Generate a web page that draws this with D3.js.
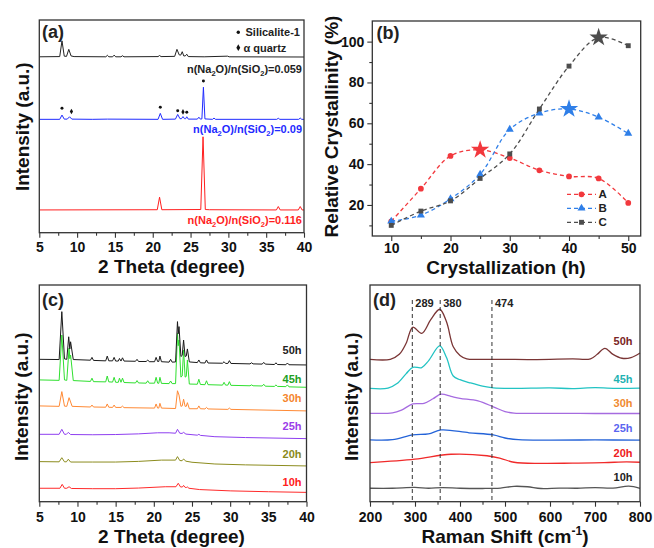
<!DOCTYPE html>
<html><head><meta charset="utf-8">
<script src="https://cdn.jsdelivr.net/npm/d3@7"></script>
<style>body{margin:0;background:#fff}svg{display:block}</style>
</head><body>
<svg id="c" width="654" height="548"></svg>
<script>
// ---------------- DATA ----------------
// (a) XRD, x = 2 theta, y = stacked intensity (a.u.)
const xrdA_0059 = [[5,82.7],[7.7,82.8],[8.0,90.2],[8.3,83.0],[8.6,82.9],[8.9,86.2],[9.2,83.1],[9.6,82.8],[13.8,82.7],[14.0,83.4],[14.2,82.7],[14.7,82.7],[14.9,83.5],[15.1,82.7],[15.8,82.7],[16.0,83.2],[16.2,82.7],[20.7,82.8],[20.9,83.3],[21.1,82.8],[22.9,82.9],[23.2,86.2],[23.5,83.6],[23.7,83.5],[23.9,85.1],[24.1,83.1],[24.3,83.1],[24.5,83.9],[24.7,82.8],[26.8,82.7],[29.9,83.0],[30.1,82.7],[40,82.6]];
const xrdA_009 = [[5,53.3],[7.7,53.3],[8.0,55.3],[8.3,53.4],[8.7,53.4],[9.0,54.5],[9.3,53.4],[12,53.3],[14,53.4],[20.7,53.3],[21.0,56.1],[21.3,53.3],[23.0,53.4],[23.3,55.6],[23.6,53.6],[23.8,53.6],[24.0,54.6],[24.2,53.6],[24.35,53.6],[24.5,54.5],[24.7,53.4],[25.9,53.4],[26.1,54.3],[26.3,53.4],[26.5,53.5],[26.7,68.4],[26.9,53.5],[27.9,53.3],[28.1,53.9],[28.3,53.3],[36.4,53.3],[36.6,53.8],[36.8,53.3],[39.3,53.3],[39.5,53.9],[39.7,53.3],[40,53.3]];
const xrdA_0116 = [[5,10.7],[20.6,10.8],[20.9,16.7],[21.2,10.8],[26.35,10.9],[26.65,45.1],[26.95,10.9],[27.5,10.8],[36.35,10.7],[36.6,12.3],[36.85,10.7],[39.25,10.7],[39.5,12.3],[39.75,10.7],[40,10.7]];
const silicaliteMarks = [[8.0,58.5],[21.0,59.0],[23.3,57.3],[24.5,56.6],[26.7,71.3]];
const quartzMarks = [[9.25,57.0],[24.0,56.8]];
const labelsA = ["0.059","0.09","0.116"];

// (b) relative crystallinity
const hoursB = [10,15,20,25,30,35,40,45,50];
const crystA = [12,28,44,47,43,37,34,33,21];
const crystB = [12,15,23,35,57,65,67,63,55];
const crystC = [10,17,22,33,45,67,88,102,98];
const seriesNamesB = ["A","B","C"];

// (c) XRD vs crystallization time
const xrdC_50 = [[5,65.7],[7.6,65.6],[7.95,87.7],[8.3,65.9],[8.6,65.7],[8.85,76.1],[9.0,70.5],[9.1,73.8],[9.45,65.6],[11.7,65.3],[11.9,66.6],[12.1,65.2],[13.7,65.0],[13.9,67.2],[14.1,65.0],[14.6,65.0],[14.8,66.6],[15.0,64.9],[15.35,64.9],[15.5,66.1],[15.7,64.9],[15.9,66.4],[16.1,64.9],[17.6,64.8],[17.8,65.7],[18.0,64.7],[19.0,64.7],[19.2,65.4],[19.4,64.6],[20.1,64.6],[20.3,66.6],[20.5,64.7],[20.65,64.7],[20.8,67.2],[21.0,64.6],[22.0,64.4],[22.2,65.7],[22.4,64.4],[22.85,64.5],[23.1,83.1],[23.2,77.5],[23.3,80.8],[23.55,67.0],[23.72,67.5],[23.9,74.6],[24.1,67.0],[24.25,67.2],[24.4,70.5],[24.65,64.5],[25.7,64.2],[25.9,65.4],[26.1,64.1],[26.7,64.0],[26.9,65.4],[27.1,64.0],[29.0,63.9],[29.2,64.6],[29.4,63.8],[29.7,63.8],[29.9,65.1],[30.1,63.8],[32.6,63.6],[32.8,64.1],[33.0,63.6],[34.2,63.5],[34.4,64.3],[34.6,63.5],[35.8,63.3],[36.0,64.1],[36.2,63.3],[37.3,63.2],[37.5,64.0],[37.7,63.2],[40,63.1]];
const xrdC_45 = [[5,56.2],[7.6,56.0],[7.95,76.9],[8.3,56.2],[8.6,56.0],[8.9,70.9],[9.0,66],[9.1,67.7],[9.45,55.9],[11.7,55.5],[11.9,57.0],[12.1,55.4],[13.7,55.3],[13.9,58.0],[14.1,55.3],[14.6,55.2],[14.8,57.4],[15.0,55.1],[15.35,55.1],[15.5,57.0],[15.7,55.1],[15.9,57.0],[16.1,55.0],[17.6,54.8],[17.8,55.9],[18.0,54.8],[19.0,54.7],[19.2,55.8],[19.4,54.7],[20.1,54.7],[20.3,57.4],[20.5,54.7],[20.65,54.6],[20.8,57.4],[21.0,54.6],[22.0,54.5],[22.2,55.7],[22.4,54.5],[22.85,54.5],[23.1,77.8],[23.2,72],[23.3,74.6],[23.55,57.5],[23.72,58],[23.9,70.0],[24.1,57.5],[24.25,57.8],[24.4,65.4],[24.65,54.3],[25.7,54.2],[25.9,56.5],[26.1,54.1],[26.7,54.0],[26.9,55.8],[27.1,54.0],[29.0,53.8],[29.2,55.1],[29.4,53.8],[29.7,53.8],[29.9,55.4],[30.1,53.7],[32.6,53.5],[32.8,53.9],[33.0,53.5],[34.2,53.4],[34.4,54.2],[34.6,53.3],[35.8,53.2],[36.0,53.9],[36.2,53.2],[37.3,53.1],[37.5,53.9],[37.7,53.0],[40,52.8]];
const xrdC_30 = [[5,44.2],[7.6,44.0],[7.95,50.8],[8.3,44.1],[8.6,44.0],[8.9,48.0],[9.3,44.0],[11.7,43.7],[11.9,44.6],[12.1,43.7],[13.7,43.6],[13.9,45.1],[14.1,43.6],[14.6,43.5],[14.8,44.6],[15.0,43.5],[15.7,43.5],[15.9,44.1],[16.1,43.4],[20.1,43.2],[20.3,45.1],[20.5,43.2],[20.65,43.2],[20.8,45.4],[21.0,43.2],[22.85,43.0],[23.1,51.2],[23.3,49.2],[23.55,44.0],[23.72,44.2],[23.9,47.3],[24.1,44.0],[24.25,44.0],[24.4,45.7],[24.65,42.9],[25.7,42.9],[25.9,44.2],[26.1,42.9],[26.7,42.8],[26.9,43.5],[27.1,42.8],[29.7,42.6],[29.9,43.2],[30.1,42.6],[40,41.9]];
const xrdC_25 = [[5,31.1],[7.6,31.1],[7.95,33.4],[8.3,31.1],[8.55,31.1],[8.8,32.0],[9.1,31.0],[12,30.9],[15,31.0],[18,31.3],[20.5,31.8],[22,31.8],[22.85,31.6],[23.1,33.4],[23.4,31.6],[23.7,31.5],[23.9,32.0],[24.2,31.2],[25.7,30.7],[25.9,31.1],[26.1,30.6],[28,30.0],[32,29.6],[40,29.1]];
const xrdC_20 = [[5,18.5],[7.6,18.4],[7.95,20.3],[8.3,18.4],[8.55,18.4],[8.8,19.6],[9.1,18.3],[12,18.3],[15,18.3],[18,18.6],[21,19.2],[22.85,19.2],[23.1,20.8],[23.4,19.0],[23.7,18.9],[23.9,19.7],[24.2,18.7],[25,18.2],[28,17.4],[32,17.0],[40,16.5]];
const xrdC_10 = [[5,6.2],[7.7,6.2],[8.0,8.0],[8.3,6.2],[8.6,6.2],[8.9,6.9],[9.2,6.1],[12,6.0],[15,6.0],[18,6.3],[21.5,6.9],[22.9,6.9],[23.2,8.5],[23.5,6.8],[23.75,6.8],[23.9,7.5],[24.1,6.6],[24.3,6.6],[24.4,6.8],[24.6,6.2],[26,5.6],[30,5.0],[35,4.6],[40,4.3]];
const timeLabels = ["50h","45h","30h","25h","20h","10h"];

// (d) Raman spectra
const raman_50 = [[200,65.7],[245,65.7],[265,68],[280,73],[295,80.5],[315,77.7],[335,84],[355,88.8],[370,83],[385,71.5],[400,67.5],[415,65.9],[450,65.7],[500,65.7],[550,65.6],[600,65.7],[650,65.9],[690,65.9],[705,68],[722,70.8],[740,68],[760,66.2],[780,66.5],[800,68.6]];
const raman_45 = [[200,52.3],[240,52.4],[260,54.5],[280,59],[295,62],[315,61.9],[330,65],[355,71.9],[370,66.5],[385,58],[400,56.3],[420,55],[450,53.3],[474,52.5],[520,52.3],[600,52.5],[650,52.2],[700,52.6],[750,52.3],[800,52.4]];
const raman_30 = [[200,40.8],[250,41],[270,42.3],[295,45.1],[320,45.4],[340,47.5],[358,49.6],[380,48.6],[400,47.7],[440,46.5],[474,43.8],[500,41.6],[520,40.9],[600,40.8],[700,40.7],[800,40.7]];
const raman_25 = [[200,28.5],[250,28.6],[295,30.8],[330,31.3],[358,33.1],[420,31.8],[474,30.8],[500,29.4],[530,28.6],[600,28.4],[700,28.5],[800,28.4]];
const raman_20 = [[200,18],[300,19.6],[380,21.9],[460,21.2],[490,20],[520,18.2],[580,17.7],[650,17.8],[720,18],[770,18.4],[800,18.2]];
const raman_10 = [[200,6.2],[250,6.2],[300,6.6],[330,6.2],[360,6.5],[400,6.2],[450,6.1],[490,6.3],[520,7.1],[550,6.9],[580,6.1],[620,6.3],[660,6.2],[700,6.5],[740,6.3],[775,7.2],[800,6.2]];
const ramanLinePos = [294,356,471];
const ramanLineLabels = ["289","380","474"];

// tick labels
const xTicksXRD = [5,10,15,20,25,30,35,40];
const xTicksB = [10,20,30,40,50];
const yTicksB = [20,40,60,80,100];
const xTicksD = [200,300,400,500,600,700,800];

// ---------------- DRAW ----------------
const FONT = "'Liberation Sans', Arial, Helvetica, sans-serif";
const svg = d3.select("#c");
const INK = "#222";

function midTicks(t){ const m=[]; for(let i=0;i<t.length-1;i++) m.push((t[i]+t[i+1])/2); return m; }

function frame(p){
  svg.append("rect").attr("x",p.x0).attr("y",p.y0).attr("width",p.x1-p.x0).attr("height",p.y1-p.y0)
    .attr("fill","none").attr("stroke","#333").attr("stroke-width",1.3);
}
function styleAxis(s){
  s.select(".domain").remove();
  s.selectAll("line").attr("stroke","#333").attr("stroke-width",1.1);
  s.selectAll("text").attr("font-family",FONT).attr("font-size",14).attr("font-weight","bold").attr("fill","#111");
}
function bottomAxis(p,x,major,minor,pad){
  svg.append("g").attr("transform",`translate(0,${p.y1})`)
    .call(d3.axisBottom(x).tickValues(major).tickSize(5).tickPadding(pad).tickFormat(d3.format("d"))).call(styleAxis);
  svg.append("g").attr("transform",`translate(0,${p.y1})`)
    .call(d3.axisBottom(x).tickValues(minor).tickSize(3).tickFormat("")).call(styleAxis);
}
function text(x,y,s,o={}){
  const t=svg.append("text").attr("x",x).attr("y",y).attr("font-family",FONT)
    .attr("font-size",o.size||11).attr("font-weight",o.weight||"bold").attr("fill",o.fill||INK)
    .attr("text-anchor",o.anchor||"start");
  if(o.rotate) t.attr("transform",`rotate(-90,${x},${y})`);
  t.text(s); return t;
}
function ratioLabel(x,y,val,color){
  const t=svg.append("text").attr("x",x).attr("y",y).attr("font-family",FONT).attr("font-size",11)
    .attr("font-weight","bold").attr("fill",color).attr("text-anchor","end");
  t.append("tspan").text("n(Na");
  t.append("tspan").attr("font-size",7.5).attr("dy",3).text("2");
  t.append("tspan").attr("dy",-3).text("O)/n(SiO");
  t.append("tspan").attr("font-size",7.5).attr("dy",3).text("2");
  t.append("tspan").attr("dy",-3).text(")="+val);
}
const TITLE=19;

// ===== Panel (a) =====
const pa={x0:39.3,x1:304,y0:20,y1:232.7};
const xa=d3.scaleLinear().domain([5,40]).range([pa.x0,pa.x1]);
const ya=d3.scaleLinear().domain([0,100]).range([pa.y1,pa.y0]);
const lineA=d3.line().x(d=>xa(d[0])).y(d=>ya(d[1]));
[[xrdA_0116,"#ff1f1f"],[xrdA_009,"#1f2bff"],[xrdA_0059,"#222"]].forEach(([d,c])=>{
  svg.append("path").attr("d",lineA(d)).attr("fill","none").attr("stroke",c).attr("stroke-width",1);
});
svg.selectAll(".sil").data(silicaliteMarks).enter().append("path")
  .attr("transform",d=>`translate(${xa(d[0])},${ya(d[1])})`).attr("d",d3.symbol(d3.symbolCircle,7)()).attr("fill","#111");
svg.selectAll(".qz").data(quartzMarks).enter().append("path")
  .attr("transform",d=>`translate(${xa(d[0])},${ya(d[1])})`).attr("d",d3.symbol(d3.symbolDiamond,9)()).attr("fill","#111");
// legend
svg.append("path").attr("transform","translate(238.3,32.3)").attr("d",d3.symbol(d3.symbolCircle,9)()).attr("fill","#111");
text(245.5,36.2,"Silicalite-1");
svg.append("path").attr("transform","translate(238.3,47.7)").attr("d",d3.symbol(d3.symbolDiamond,13)()).attr("fill","#111");
text(243.5,51.6,"α quartz");
ratioLabel(302,73.3,labelsA[0],"#222");
ratioLabel(302,133,labelsA[1],"#1f2bff");
ratioLabel(302,224,labelsA[2],"#ff1f1f");
frame(pa);
bottomAxis(pa,xa,xTicksXRD,midTicks(xTicksXRD),4);
text(42,38,"(a)",{size:18});
text(171.5,272.5,"2 Theta (degree)",{size:TITLE,anchor:"middle",fill:"#111"});
text(29.5,126.7,"Intensity (a.u.)",{size:TITLE,anchor:"middle",rotate:true,fill:"#111"});

// ===== Panel (b) =====
const pb={x0:372.3,x1:640.7,y0:21,y1:236};
const xb=d3.scaleLinear().domain([6.8,52.1]).range([pb.x0,pb.x1]);
const yb=d3.scaleLinear().domain([4.8,110.1]).range([pb.y1,pb.y0]);
const seriesB=[
  {v:crystA,c:"#f2383d",sym:d3.symbolCircle,size:26},
  {v:crystB,c:"#2f7fe8",sym:d3.symbolTriangle,size:28},
  {v:crystC,c:"#4d4d4d",sym:d3.symbolSquare,size:24}
];
const lineB=d3.line().x((d,i)=>xb(hoursB[i])).y(d=>yb(d)).curve(d3.curveCatmullRom.alpha(0.5));
seriesB.forEach(s=>{
  svg.append("path").attr("d",lineB(s.v)).attr("fill","none").attr("stroke",s.c).attr("stroke-width",1.3).attr("stroke-dasharray","4,3");
  const mi=d3.maxIndex(s.v);
  s.v.forEach((v,i)=>{
    const isMax=i===mi;
    svg.append("path").attr("transform",`translate(${xb(hoursB[i])},${yb(v)})`)
      .attr("d",d3.symbol(isMax?d3.symbolStar:s.sym,isMax?105:s.size)()).attr("fill",s.c);
  });
});
// legend
[194.3,208.3,222.3].forEach((ly,i)=>{
  const s=seriesB[i];
  svg.append("line").attr("x1",567).attr("x2",596).attr("y1",ly).attr("y2",ly).attr("stroke",s.c).attr("stroke-width",1.3).attr("stroke-dasharray","4,3");
  svg.append("path").attr("transform",`translate(581.5,${ly})`).attr("d",d3.symbol(s.sym,s.size)()).attr("fill",s.c);
  text(598.5,ly+4,seriesNamesB[i],{size:11.5});
});
frame(pb);
bottomAxis(pb,xb,xTicksB,midTicks(xTicksB),2);
svg.append("g").attr("transform",`translate(${pb.x0},0)`)
  .call(d3.axisLeft(yb).tickValues(yTicksB).tickSize(5).tickPadding(3).tickFormat(d3.format("d"))).call(styleAxis);
svg.append("g").attr("transform",`translate(${pb.x0},0)`)
  .call(d3.axisLeft(yb).tickValues([10,30,50,70,90]).tickSize(3).tickFormat("")).call(styleAxis);
text(376.5,39,"(b)",{size:18});
text(506,273.5,"Crystallization (h)",{size:TITLE,anchor:"middle",fill:"#111"});
text(337.5,126.5,"Relative Crystallinity (%)",{size:TITLE,anchor:"middle",rotate:true,fill:"#111"});

// ===== Panel (c) =====
const pc={x0:39.3,x1:306.5,y0:285,y1:501.7};
const xc=d3.scaleLinear().domain([5,40]).range([pc.x0,pc.x1]);
const yc=d3.scaleLinear().domain([0,100]).range([pc.y1,pc.y0]);
const lineC=d3.line().x(d=>xc(d[0])).y(d=>yc(d[1]));
const tracesC=[[xrdC_10,"#ff2a2a"],[xrdC_20,"#8c8c1e"],[xrdC_25,"#8f3ff0"],[xrdC_30,"#ff8a35"],[xrdC_45,"#2fe02f"],[xrdC_50,"#1a1a1a"]];
tracesC.forEach(([d,c])=>svg.append("path").attr("d",lineC(d)).attr("fill","none").attr("stroke",c).attr("stroke-width",1));
const labColC=["#222","#22a022","#f5862e","#9b3ce8","#8a8a1a","#ff2020"];
[350,378.7,397.7,425.7,454,481.7].forEach((ly,i)=>text(301.5,ly+4,timeLabels[i],{anchor:"end",fill:labColC[i]}));
frame(pc);
bottomAxis(pc,xc,xTicksXRD,midTicks(xTicksXRD),5);
text(42,306,"(c)",{size:18});
text(171.5,542.5,"2 Theta (degree)",{size:TITLE,anchor:"middle",fill:"#111"});
text(28.5,396.7,"Intensity (a.u.)",{size:TITLE,anchor:"middle",rotate:true,fill:"#111"});

// ===== Panel (d) =====
const pd={x0:370,x1:640,y0:285,y1:501.7};
const xd=d3.scaleLinear().domain([200,800]).range([pd.x0,pd.x1]);
const yd=d3.scaleLinear().domain([0,100]).range([pd.y1,pd.y0]);
const lineD=d3.line().x(d=>xd(d[0])).y(d=>yd(d[1])).curve(d3.curveCatmullRom.alpha(0.5));
const tracesD=[[raman_10,"#555555"],[raman_20,"#f02a2a"],[raman_25,"#2463d8"],[raman_30,"#a66be0"],[raman_45,"#22c3c3"],[raman_50,"#7a3535"]];
tracesD.forEach(([d,c])=>svg.append("path").attr("d",lineD(d)).attr("fill","none").attr("stroke",c).attr("stroke-width",1.3));
ramanLinePos.forEach((p,i)=>{
  svg.append("line").attr("x1",xd(p)).attr("x2",xd(p)).attr("y1",300).attr("y2",pd.y1)
    .attr("stroke","#333").attr("stroke-width",1).attr("stroke-dasharray","4,3");
  text(xd(p)+3,306.5,ramanLineLabels[i],{size:11,fill:"#222"});
});
const labColD=["#7a2525","#1fb3b3","#f08a30","#5a66f0","#ee2020","#222"];
[340.7,378.7,403.3,428.3,452.7,476.7].forEach((ly,i)=>text(632.5,ly+4,timeLabels[i],{anchor:"end",fill:labColD[i]}));
frame(pd);
bottomAxis(pd,xd,xTicksD,midTicks(xTicksD),5);
text(373,306,"(d)",{size:18});
const td=text(505,542.5,"Raman Shift (cm",{size:TITLE,anchor:"middle",fill:"#111"});
td.append("tspan").attr("font-size",12).attr("dy",-8).text("-1");
td.append("tspan").attr("dy",8).text(")");
text(358,396.7,"Intensity (a.u.)",{size:TITLE,anchor:"middle",rotate:true,fill:"#111"});
</script>
</body></html>
